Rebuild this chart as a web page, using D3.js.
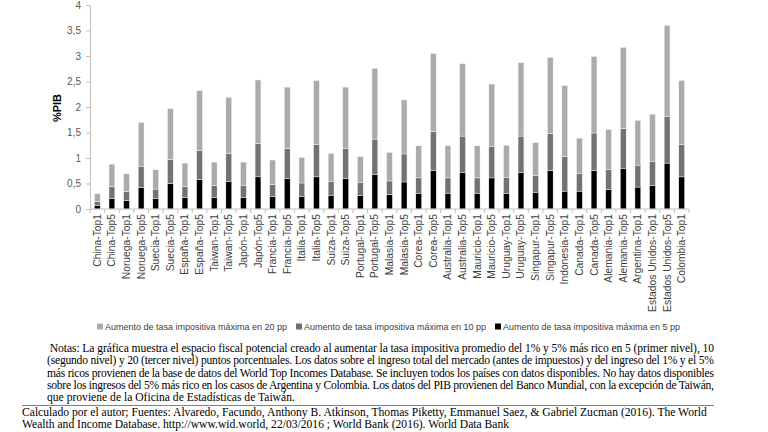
<!DOCTYPE html>
<html>
<head>
<meta charset="utf-8">
<script src="https://cdn.jsdelivr.net/npm/d3@7"></script>
<style>
  body { margin: 0; background: #fff; }
  svg { display: block; }
</style>
</head>
<body>
<script>
// categorias del eje x
var categorias = ["China-Top1", "China-Top5", "Noruega-Top1", "Noruega-Top5", "Suecia-Top1", "Suecia-Top5",
  "España-Top1", "España-Top5", "Taiwan-Top1", "Taiwan-Top5", "Japón-Top1", "Japón-Top5",
  "Francia-Top1", "Francia-Top5", "Italia-Top1", "Italia-Top5", "Suiza-Top1", "Suiza-Top5",
  "Portugal-Top1", "Portugal-Top5", "Malasia-Top1", "Malasia-Top5", "Corea-Top1", "Corea-Top5",
  "Australia-Top1", "Australia-Top5", "Mauricio-Top1", "Mauricio-Top5", "Uruguay-Top1", "Uruguay-Top5",
  "Singapur-Top1", "Singapur-Top5", "Indonesia-Top1", "Canada-Top1", "Canada-Top5", "Alemania-Top1",
  "Alemania-Top5", "Argentina-Top1", "Estados Unidos-Top1", "Estados Unidos-Top5", "Colombia-Top1"];

// tramo de cada serie (se apilan: 5 pp abajo, luego 10 pp, luego 20 pp)
var pp5 = [0.07, 0.21, 0.17, 0.42, 0.20, 0.50, 0.23, 0.58, 0.23, 0.54, 0.23, 0.63,
  0.24, 0.60, 0.25, 0.63, 0.27, 0.60, 0.26, 0.68, 0.28, 0.53, 0.31, 0.76,
  0.31, 0.71, 0.31, 0.61, 0.31, 0.71, 0.33, 0.75, 0.35, 0.35, 0.75, 0.38,
  0.80, 0.43, 0.46, 0.90, 0.63];
var pp10 = [0.08, 0.23, 0.17, 0.42, 0.19, 0.47, 0.21, 0.57, 0.23, 0.55, 0.23, 0.65,
  0.24, 0.59, 0.26, 0.63, 0.27, 0.59, 0.26, 0.69, 0.27, 0.55, 0.30, 0.76,
  0.30, 0.72, 0.30, 0.62, 0.31, 0.72, 0.33, 0.73, 0.68, 0.35, 0.74, 0.40,
  0.78, 0.43, 0.47, 0.91, 0.63];
var pp20 = [0.15, 0.44, 0.35, 0.86, 0.38, 1.00, 0.46, 1.17, 0.46, 1.10, 0.46, 1.25,
  0.48, 1.20, 0.50, 1.26, 0.55, 1.20, 0.51, 1.39, 0.56, 1.06, 0.63, 1.53,
  0.63, 1.42, 0.63, 1.22, 0.63, 1.44, 0.64, 1.49, 1.39, 0.69, 1.50, 0.78,
  1.59, 0.88, 0.93, 1.79, 1.26];

var yTicks = [0, 0.5, 1, 1.5, 2, 2.5, 3, 3.5, 4];

var series = [
  { nombre: "Aumento de tasa impositiva máxima en 20 pp", color: "#aeaaaa" },
  { nombre: "Aumento de tasa impositiva máxima en 10 pp", color: "#767171" },
  { nombre: "Aumento de tasa impositiva máxima en 5 pp", color: "#000000" }
];

var notas = [
  " Notas: La gráfica muestra el espacio fiscal potencial creado al aumentar la tasa impositiva promedio del 1% y 5% más rico en 5 (primer nivel), 10",
  "(segundo nivel) y 20 (tercer nivel) puntos porcentuales. Los datos sobre el ingreso total del mercado (antes de impuestos) y del ingreso del 1% y el 5%",
  "más ricos provienen de la base de datos del World Top Incomes Database. Se incluyen todos los países con datos disponibles. No hay datos disponibles",
  "sobre los ingresos del 5% más rico en los casos de Argentina y Colombia. Los datos del PIB provienen del Banco Mundial, con la excepción de Taiwán,",
  "que proviene de la Oficina de Estadísticas de Taiwán."
];
var fuentes = [
  "Calculado por el autor; Fuentes: Alvaredo, Facundo, Anthony B. Atkinson, Thomas Piketty, Emmanuel Saez, & Gabriel Zucman (2016). The World",
  "Wealth and Income Database. http://www.wid.world, 22/03/2016 ; World Bank (2016). World Data Bank"
];

var W = 768, H = 432;
var svg = d3.select("body").append("svg").attr("width", W).attr("height", H);

var x = d3.scaleBand().domain(categorias).range([90, 689]).paddingInner(0.6).paddingOuter(0.3);
var y = d3.scaleLinear().domain([0, 4]).range([209, 5]);

var filas = categorias.map(function(c, i) {
  return { cat: c, a: pp5[i], b: pp10[i], c: pp20[i] };
});
var stack = d3.stack().keys(["a", "b", "c"])(filas);
var colores = ["#000000", "#767171", "#aeaaaa"];

// eje y
var ejeY = svg.append("g").attr("transform", "translate(90,0)")
  .call(d3.axisLeft(y).tickValues(yTicks).tickSize(4).tickPadding(5)
    .tickFormat(function(d) { return String(d).replace(".", ","); }));
ejeY.select(".domain").attr("stroke", "#bfbfbf");
ejeY.selectAll(".tick line").attr("stroke", "#bfbfbf");
ejeY.selectAll("text").attr("font-family", "Liberation Sans, Arial, sans-serif")
  .attr("font-size", 10).attr("fill", "#595959");

// barras apiladas
svg.append("g").selectAll("g").data(stack).enter().append("g")
  .attr("fill", function(d, i) { return colores[i]; })
  .selectAll("rect").data(function(d) { return d; }).enter().append("rect")
  .attr("x", function(d) { return x(d.data.cat); })
  .attr("width", x.bandwidth())
  .attr("y", function(d) { return y(d[1]); })
  .attr("height", function(d) { return y(d[0]) - y(d[1]); })
  .attr("stroke", "#ffffff").attr("stroke-width", 0.4);

// eje x
var n = categorias.length;
var ejeX = svg.append("g").attr("transform", "translate(0,209)");
ejeX.append("line").attr("x1", 90).attr("x2", 689).attr("stroke", "#bfbfbf");
ejeX.selectAll("line.t").data(d3.range(n + 1)).enter().append("line")
  .attr("class", "t")
  .attr("x1", function(i) { return 90 + i * (599 / n); })
  .attr("x2", function(i) { return 90 + i * (599 / n); })
  .attr("y1", 0).attr("y2", 4).attr("stroke", "#bfbfbf");
ejeX.selectAll("text").data(categorias).enter().append("text")
  .attr("transform", function(d) { return "translate(" + (x(d) + x.bandwidth() / 2 + 3.5) + ",5) rotate(-90)"; })
  .attr("text-anchor", "end")
  .attr("font-family", "Liberation Sans, Arial, sans-serif")
  .attr("font-size", 10.3).attr("fill", "#404040")
  .text(function(d) { return d; });

// titulo eje y
svg.append("text").attr("transform", "translate(61,108) rotate(-90)")
  .attr("text-anchor", "middle").attr("font-family", "Liberation Sans, Arial, sans-serif")
  .attr("font-size", 11).attr("font-weight", "bold").attr("fill", "#000")
  .text("%PIB");

// leyenda
var posLey = [97, 296, 495];
var ley = svg.append("g").selectAll("g").data(series).enter().append("g")
  .attr("transform", function(d, i) { return "translate(" + posLey[i] + ",327)"; });
ley.append("rect").attr("x", 0).attr("y", -3.5).attr("width", 6).attr("height", 6)
  .attr("fill", function(d) { return d.color; });
ley.append("text").attr("x", 8).attr("y", 3)
  .attr("font-family", "Liberation Sans, Arial, sans-serif").attr("font-size", 9)
  .attr("fill", "#404040").text(function(d) { return d.nombre; });

// notas
var serif = "Liberation Serif, Times New Roman, serif";
svg.append("g").selectAll("text").data(notas).enter().append("text")
  .attr("x", 47).attr("y", function(d, i) { return 352 + i * 12.3; })
  .attr("font-family", serif).attr("font-size", 11.6).attr("fill", "#000")
  .attr("xml:space", "preserve")
  .attr("textLength", function(d, i) { return i < 4 ? 667 : null; })
  .attr("lengthAdjust", "spacing")
  .text(function(d) { return d; });

svg.append("line").attr("x1", 22).attr("x2", 714).attr("y1", 405.5).attr("y2", 405.5)
  .attr("stroke", "#7f7f7f").attr("stroke-width", 1);

svg.append("g").selectAll("text").data(fuentes).enter().append("text")
  .attr("x", 22).attr("y", function(d, i) { return 416 + i * 12; })
  .attr("font-family", serif).attr("font-size", 11.6).attr("fill", "#000")
  .text(function(d) { return d; });
</script>
</body>
</html>
